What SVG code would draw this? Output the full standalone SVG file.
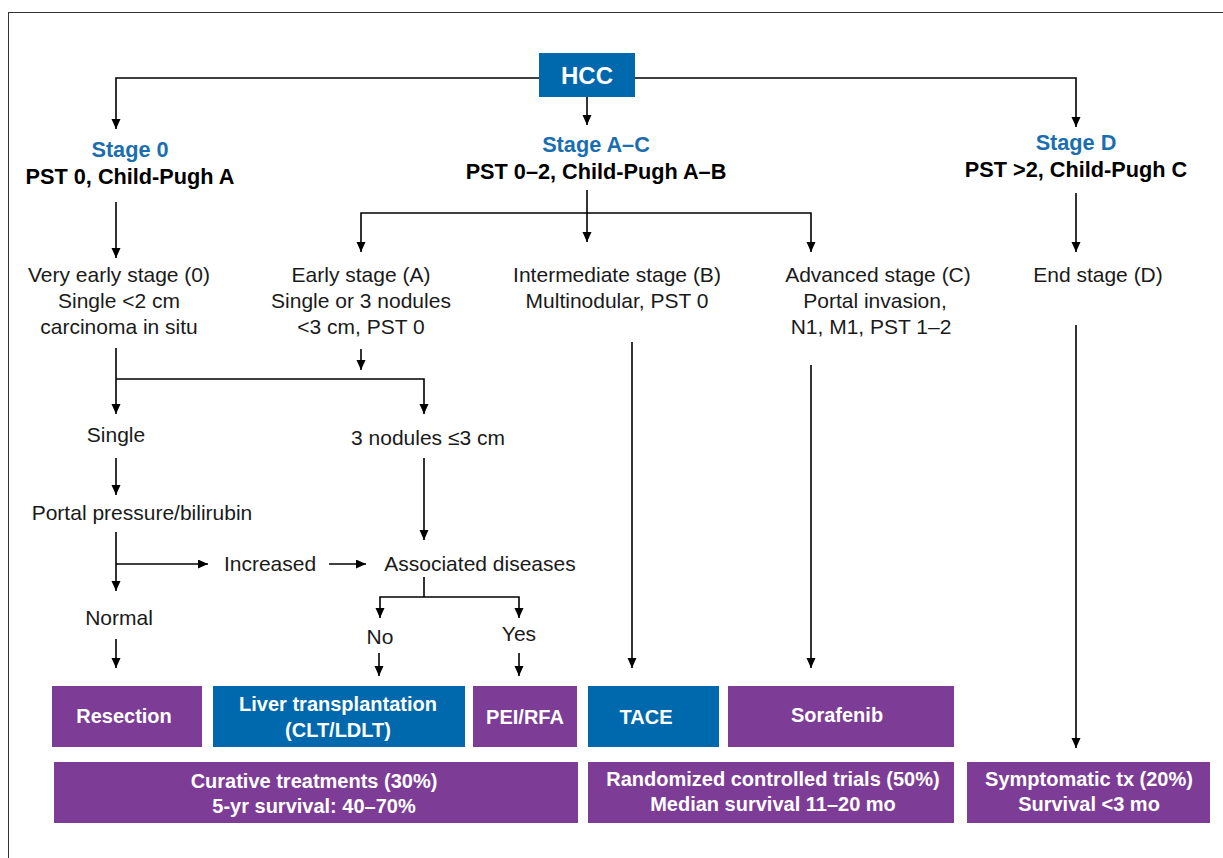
<svg xmlns="http://www.w3.org/2000/svg" width="1223" height="858" viewBox="0 0 1223 858">
<defs>
<marker id="ah" markerUnits="userSpaceOnUse" markerWidth="10" markerHeight="10" refX="10" refY="4.5" orient="auto">
<path d="M0,0 L10,4.5 L0,9 Z" fill="#000"/>
</marker>
<style>
.ln{fill:none;stroke:#000;stroke-width:1.6}
.ar{fill:none;stroke:#000;stroke-width:1.6;marker-end:url(#ah)}
.t{font-family:"Liberation Sans",Arial,sans-serif;font-size:21px;fill:#1a1a1a;text-anchor:middle}
.b{font-family:"Liberation Sans",Arial,sans-serif;font-size:21.7px;font-weight:bold;fill:#000;text-anchor:middle}
.st{font-family:"Liberation Sans",Arial,sans-serif;font-size:21.7px;font-weight:bold;fill:#1a6eb0;text-anchor:middle}
.w{font-family:"Liberation Sans",Arial,sans-serif;font-size:20px;font-weight:bold;fill:#fff;text-anchor:middle}
.pu{fill:#7d3c96}
.bl{fill:#0068ac}
</style>
</defs>
<rect x="0" y="0" width="1223" height="858" fill="#fff"/>
<rect x="8.5" y="12.5" width="1300" height="900" fill="none" stroke="#333" stroke-width="1"/>

<g id="connectors">
<polyline class="ar" points="540,78 116,78 116,129"/>
<polyline class="ar" points="634,78 1076,78 1076,127"/>
<line class="ar" x1="587" y1="97" x2="587" y2="125"/>
<line class="ar" x1="116" y1="202" x2="116" y2="258"/>
<line class="ar" x1="587" y1="190" x2="587" y2="242"/>
<polyline class="ar" points="587,213 361,213 361,252"/>
<polyline class="ar" points="587,213 811,213 811,252"/>
<line class="ar" x1="1076" y1="193" x2="1076" y2="252"/>
<line class="ar" x1="116" y1="348" x2="116" y2="414"/>
<polyline class="ar" points="116,379 424,379 424,414"/>
<line class="ar" x1="361" y1="349" x2="361" y2="370"/>
<line class="ar" x1="116" y1="458" x2="116" y2="495"/>
<line class="ar" x1="424" y1="458" x2="424" y2="540"/>
<line class="ar" x1="116" y1="532" x2="116" y2="591"/>
<line class="ar" x1="116" y1="564" x2="208" y2="564"/>
<line class="ar" x1="329" y1="564" x2="366" y2="564"/>
<line class="ln" x1="424" y1="577" x2="424" y2="597"/>
<polyline class="ar" points="424,597 380,597 380,618"/>
<polyline class="ar" points="424,597 519,597 519,618"/>
<line class="ar" x1="116" y1="639" x2="116" y2="668"/>
<line class="ar" x1="379" y1="653" x2="379" y2="676"/>
<line class="ar" x1="519" y1="653" x2="519" y2="676"/>
<line class="ar" x1="632" y1="342" x2="632" y2="668"/>
<line class="ar" x1="811" y1="365" x2="811" y2="668"/>
<line class="ar" x1="1076" y1="325" x2="1076" y2="748"/>
</g>

<g id="hcc">
<rect class="bl" x="539" y="53" width="96" height="44"/>
<text class="w" style="font-size:24px" x="587" y="84">HCC</text>
</g>

<g id="stage0">
<text class="st" x="130" y="157">Stage 0</text>
<text class="b" x="130" y="184">PST 0, Child-Pugh A</text>
</g>
<g id="stageAC">
<text class="st" x="596" y="152">Stage A–C</text>
<text class="b" x="596" y="179">PST 0–2, Child-Pugh A–B</text>
</g>
<g id="stageD">
<text class="st" x="1076" y="150">Stage D</text>
<text class="b" x="1076" y="177">PST &gt;2, Child-Pugh C</text>
</g>

<g id="very-early">
<text class="t" x="119" y="282">Very early stage (0)</text>
<text class="t" x="119" y="308">Single &lt;2 cm</text>
<text class="t" x="119" y="334">carcinoma in situ</text>
</g>
<g id="early">
<text class="t" x="361" y="282">Early stage (A)</text>
<text class="t" x="361" y="308">Single or 3 nodules</text>
<text class="t" x="361" y="334">&lt;3 cm, PST 0</text>
</g>
<g id="intermediate">
<text class="t" x="617" y="282">Intermediate stage (B)</text>
<text class="t" x="617" y="308">Multinodular, PST 0</text>
</g>
<g id="advanced">
<text class="t" x="878" y="282">Advanced stage (C)</text>
<text class="t" x="875" y="308">Portal invasion,</text>
<text class="t" x="871" y="334">N1, M1, PST 1–2</text>
</g>
<g id="end">
<text class="t" x="1098" y="282">End stage (D)</text>
</g>

<g id="single"><text class="t" x="116" y="442">Single</text></g>
<g id="three-nodules"><text class="t" x="428" y="445">3 nodules ≤3 cm</text></g>
<g id="portal"><text class="t" x="142" y="520">Portal pressure/bilirubin</text></g>
<g id="increased"><text class="t" x="270" y="571">Increased</text></g>
<g id="associated"><text class="t" x="480" y="571">Associated diseases</text></g>
<g id="normal"><text class="t" x="119" y="625">Normal</text></g>
<g id="no"><text class="t" x="380" y="644">No</text></g>
<g id="yes"><text class="t" x="519" y="641">Yes</text></g>

<g id="resection">
<rect class="pu" x="52" y="686" width="150" height="61"/>
<text class="w" x="124" y="723">Resection</text>
</g>
<g id="liver-transplant">
<rect class="bl" x="213" y="686" width="252" height="61"/>
<text class="w" x="338" y="711">Liver transplantation</text>
<text class="w" x="338" y="737">(CLT/LDLT)</text>
</g>
<g id="pei-rfa">
<rect class="pu" x="473" y="686" width="104" height="61"/>
<text class="w" x="525" y="724">PEI/RFA</text>
</g>
<g id="tace">
<rect class="bl" x="588" y="686" width="131" height="61"/>
<text class="w" x="646" y="724">TACE</text>
</g>
<g id="sorafenib">
<rect class="pu" x="728" y="686" width="226" height="61"/>
<text class="w" x="837" y="722">Sorafenib</text>
</g>
<g id="curative">
<rect class="pu" x="54" y="762" width="524" height="61"/>
<text class="w" x="314" y="788">Curative treatments (30%)</text>
<text class="w" x="314" y="813">5-yr survival: 40–70%</text>
</g>
<g id="rct">
<rect class="pu" x="588" y="762" width="366" height="61"/>
<text class="w" x="773" y="786">Randomized controlled trials (50%)</text>
<text class="w" x="773" y="811">Median survival 11–20 mo</text>
</g>
<g id="symptomatic">
<rect class="pu" x="967" y="762" width="243" height="61"/>
<text class="w" x="1089" y="786">Symptomatic tx (20%)</text>
<text class="w" x="1089" y="811">Survival &lt;3 mo</text>
</g>
</svg>
